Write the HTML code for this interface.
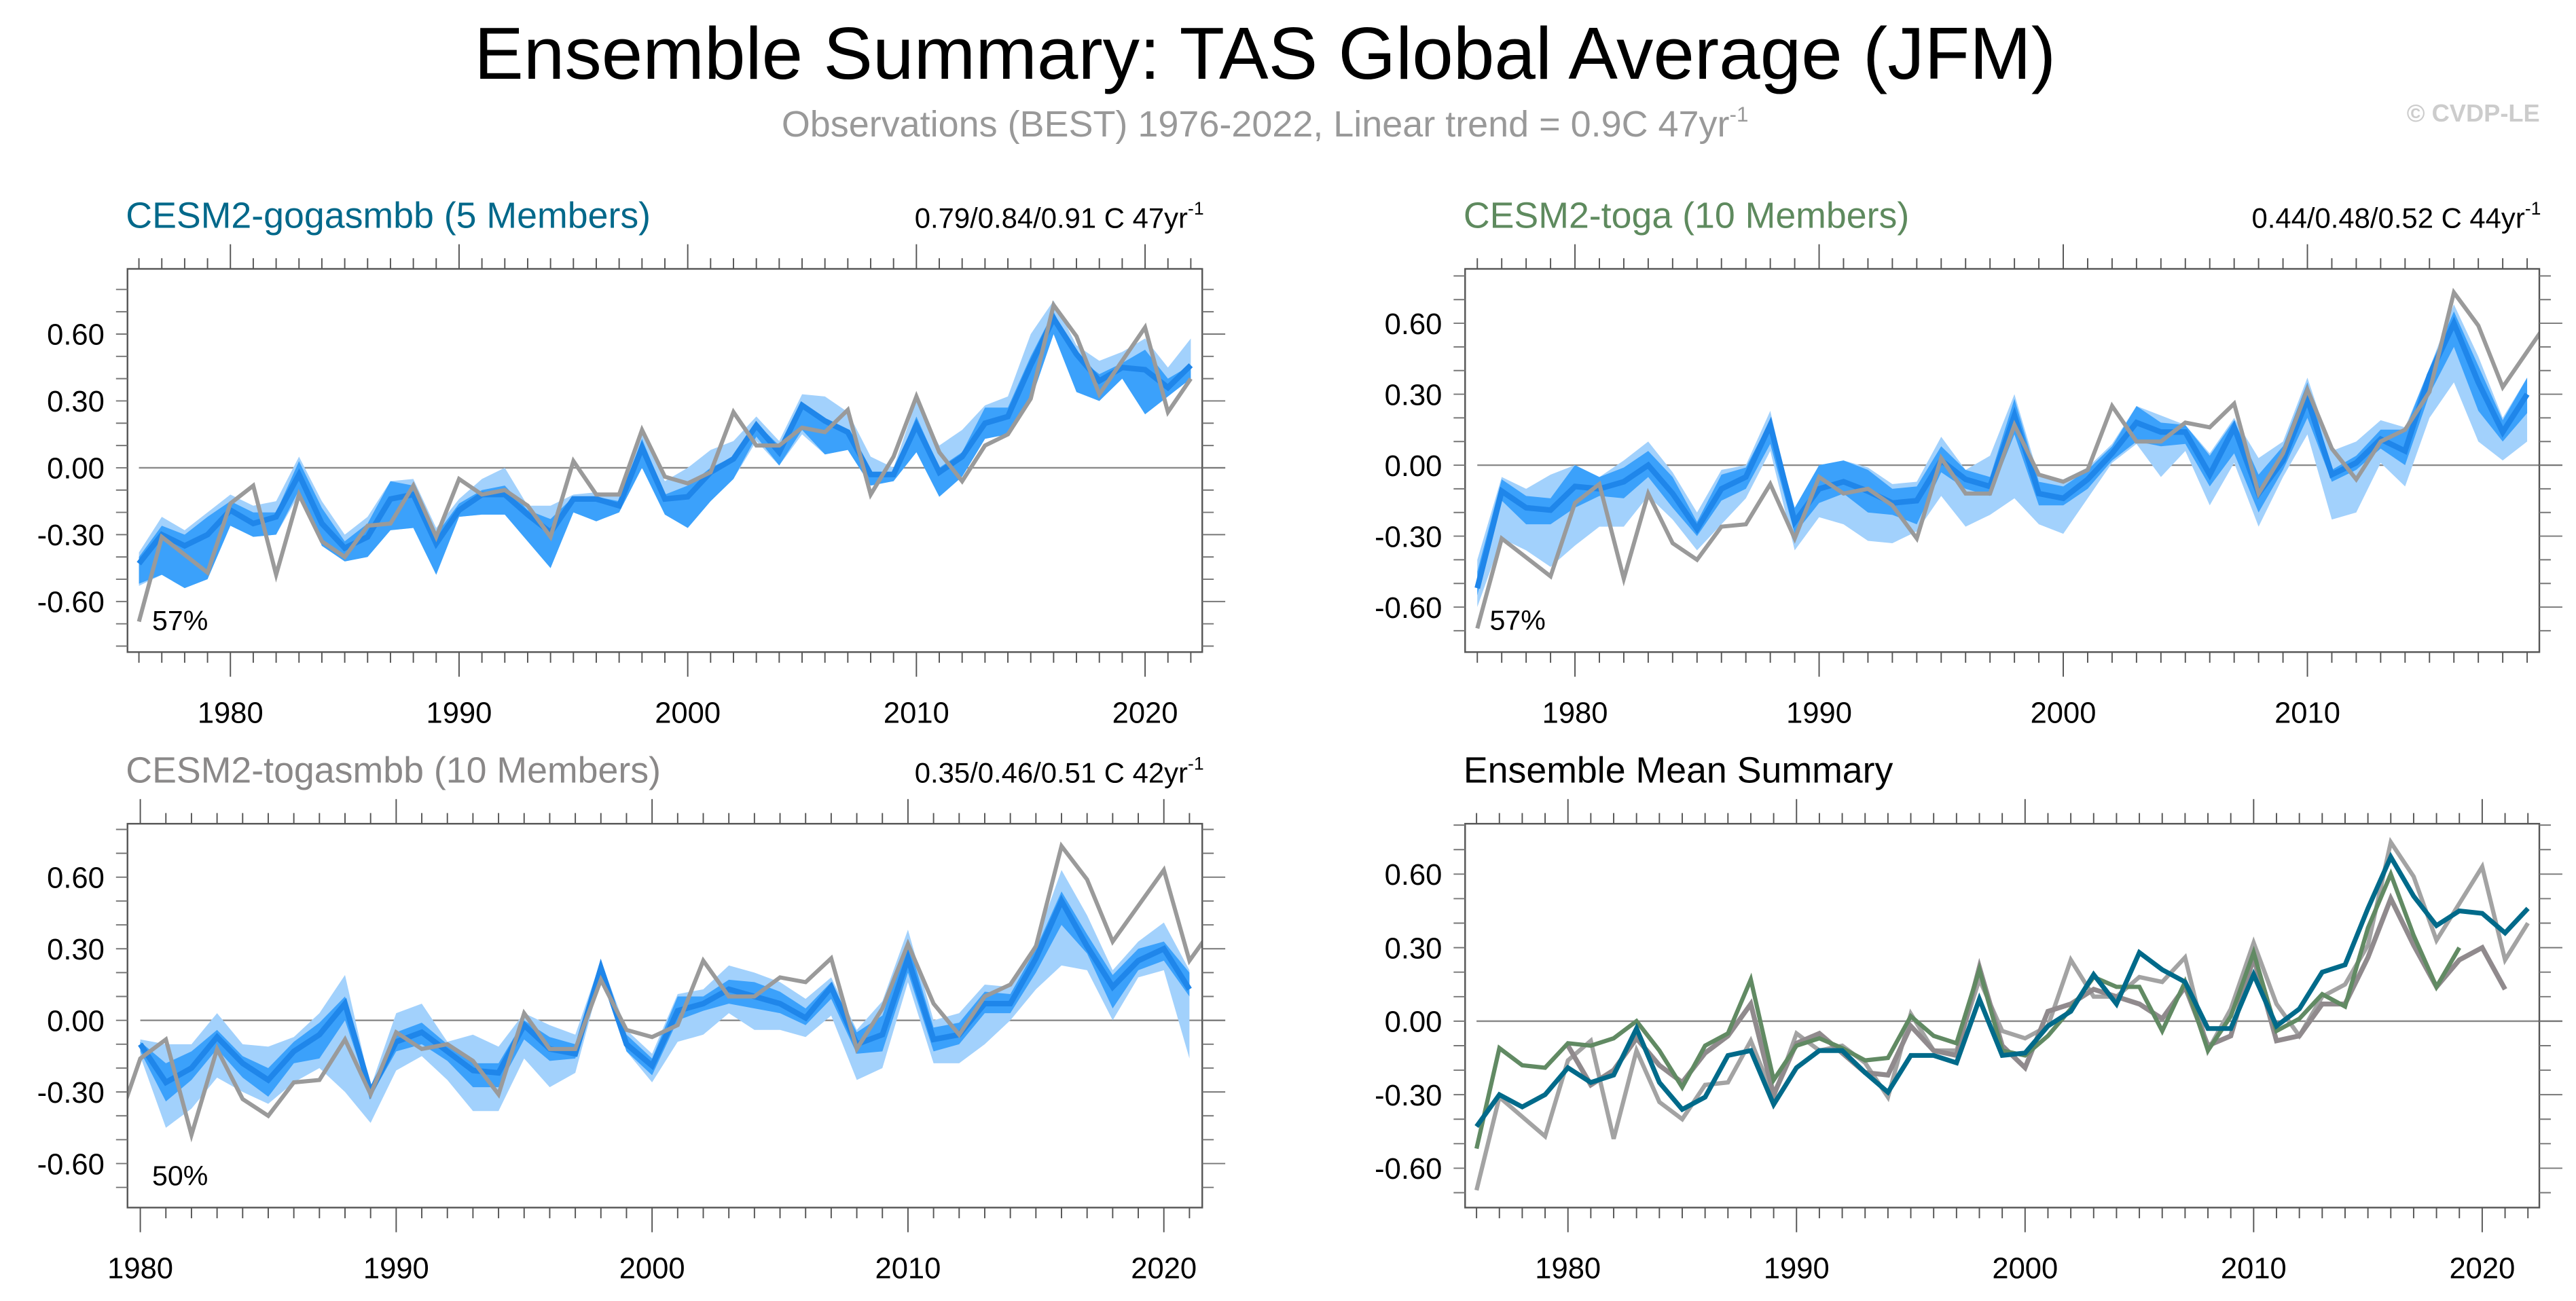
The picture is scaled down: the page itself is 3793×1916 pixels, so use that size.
<!DOCTYPE html>
<html><head><meta charset="utf-8"><style>
html,body{margin:0;padding:0;background:#fff;}
svg{display:block;font-family:"Liberation Sans",sans-serif;}
</style></head><body>
<svg id="chart" width="3793" height="1916" viewBox="0 0 1568 792.07" xmlns="http://www.w3.org/2000/svg">
<rect x="0" y="0" width="1568" height="793" fill="#fff"/>
<text x="770" y="48" font-size="45" text-anchor="middle" fill="#000">Ensemble Summary: TAS Global Average (JFM)</text>
<text x="770" y="83" font-size="22.3" text-anchor="middle" fill="#999">Observations (BEST) 1976-2022, Linear trend = 0.9C 47yr<tspan font-size="13" dy="-9">-1</tspan></text>
<text x="1546" y="74" font-size="15" font-weight="bold" text-anchor="end" fill="#ccc">© CVDP-LE</text>
<g id="plots"></g>
</svg>
<script>
// ---- data ----
const obsYears = [1976,2022];
const obsVals = [-0.69,-0.31,-0.39,-0.47,-0.16,-0.08,-0.48,-0.12,-0.33,-0.40,-0.26,-0.25,-0.08,-0.31,-0.05,-0.12,-0.10,-0.17,-0.31,0.03,-0.12,-0.12,0.17,-0.04,-0.07,-0.02,0.25,0.10,0.10,0.18,0.16,0.26,-0.12,0.05,0.32,0.07,-0.06,0.10,0.15,0.31,0.73,0.59,0.33,0.48,0.63,0.25,0.40];

const gogaYears = [1976,2022];
const gogaMean = [-0.43,-0.30,-0.35,-0.30,-0.19,-0.25,-0.22,-0.03,-0.25,-0.36,-0.31,-0.14,-0.12,-0.34,-0.19,-0.12,-0.12,-0.21,-0.29,-0.14,-0.14,-0.17,0.09,-0.14,-0.13,-0.02,0.04,0.19,0.07,0.28,0.21,0.16,-0.03,-0.03,0.19,-0.02,0.05,0.20,0.23,0.46,0.67,0.51,0.39,0.45,0.44,0.36,0.46];
const gogaLightLo = [-0.53,-0.48,-0.54,-0.50,-0.26,-0.31,-0.30,-0.12,-0.35,-0.42,-0.40,-0.28,-0.27,-0.48,-0.22,-0.21,-0.21,-0.33,-0.45,-0.20,-0.24,-0.20,0.00,-0.21,-0.27,-0.15,-0.05,0.12,0.01,0.15,0.06,0.08,-0.08,-0.06,0.07,-0.13,-0.04,0.13,0.15,0.30,0.60,0.34,0.30,0.40,0.24,0.32,0.40];
const gogaLightHi = [-0.38,-0.22,-0.28,-0.20,-0.12,-0.17,-0.15,0.05,-0.15,-0.30,-0.22,-0.06,-0.05,-0.27,-0.14,-0.05,0.00,-0.17,-0.17,-0.12,-0.11,-0.12,0.15,-0.06,0.00,0.08,0.12,0.23,0.12,0.33,0.32,0.25,0.05,0.00,0.30,0.10,0.17,0.28,0.32,0.60,0.75,0.55,0.48,0.52,0.58,0.45,0.58];
const gogaDarkLo = [-0.52,-0.48,-0.54,-0.50,-0.26,-0.31,-0.30,-0.10,-0.35,-0.42,-0.40,-0.28,-0.27,-0.48,-0.22,-0.21,-0.21,-0.33,-0.45,-0.20,-0.24,-0.20,0.00,-0.21,-0.27,-0.15,-0.05,0.14,0.01,0.17,0.06,0.08,-0.08,-0.06,0.07,-0.13,-0.04,0.13,0.15,0.30,0.60,0.34,0.30,0.40,0.24,0.32,0.40];
const gogaDarkHi = [-0.40,-0.26,-0.30,-0.22,-0.15,-0.20,-0.20,0.03,-0.18,-0.33,-0.25,-0.06,-0.08,-0.30,-0.16,-0.10,-0.08,-0.19,-0.23,-0.13,-0.13,-0.15,0.13,-0.12,-0.08,0.00,0.05,0.20,0.10,0.28,0.22,0.17,-0.02,-0.02,0.23,0.00,0.07,0.27,0.27,0.50,0.70,0.50,0.42,0.47,0.53,0.40,0.46];

const togaYears = [1976,2019];
const togaMean = [-0.52,-0.11,-0.18,-0.19,-0.09,-0.10,-0.07,0.00,-0.12,-0.27,-0.10,-0.05,0.17,-0.24,-0.10,-0.07,-0.11,-0.16,-0.15,0.02,-0.06,-0.09,0.21,-0.12,-0.14,-0.06,0.05,0.18,0.14,0.14,-0.04,0.16,-0.12,0.02,0.28,-0.04,0.01,0.11,0.06,0.38,0.60,0.35,0.14,0.30];
const togaLightLo = [-0.60,-0.31,-0.36,-0.43,-0.34,-0.26,-0.26,-0.13,-0.23,-0.36,-0.25,-0.14,0.06,-0.36,-0.22,-0.25,-0.32,-0.33,-0.28,-0.13,-0.26,-0.21,-0.14,-0.25,-0.29,-0.14,0.01,0.09,-0.05,0.06,-0.17,0.01,-0.26,-0.05,0.13,-0.23,-0.20,0.01,-0.09,0.20,0.35,0.10,0.02,0.10];
const togaLightHi = [-0.40,-0.05,-0.10,-0.04,0.00,-0.05,0.02,0.10,-0.03,-0.20,-0.02,0.00,0.23,-0.22,0.00,0.02,-0.01,-0.08,-0.07,0.12,-0.02,0.04,0.30,-0.05,-0.06,-0.01,0.09,0.25,0.21,0.17,0.05,0.20,0.03,0.10,0.37,0.06,0.10,0.19,0.16,0.41,0.68,0.46,0.20,0.37];
const togaDarkLo = [-0.55,-0.15,-0.25,-0.25,-0.18,-0.13,-0.14,-0.05,-0.18,-0.30,-0.15,-0.10,0.09,-0.29,-0.16,-0.12,-0.20,-0.21,-0.25,-0.03,-0.10,-0.13,0.13,-0.17,-0.17,-0.10,0.02,0.10,0.08,0.09,-0.09,0.05,-0.20,-0.02,0.20,-0.07,-0.02,0.07,0.00,0.30,0.50,0.23,0.10,0.22];
const togaDarkHi = [-0.45,-0.06,-0.13,-0.14,0.00,-0.05,-0.01,0.06,-0.05,-0.24,-0.04,-0.01,0.19,-0.18,0.00,0.02,-0.02,-0.10,-0.09,0.08,-0.02,-0.05,0.28,-0.07,-0.09,-0.02,0.08,0.25,0.18,0.17,0.04,0.19,-0.04,0.08,0.35,-0.02,0.04,0.15,0.15,0.41,0.65,0.42,0.19,0.37];

const togasYears = [1980,2021];
const togasMean = [-0.10,-0.26,-0.20,-0.07,-0.18,-0.25,-0.13,-0.06,0.07,-0.30,-0.09,-0.05,-0.13,-0.21,-0.22,-0.02,-0.12,-0.14,0.22,-0.10,-0.19,0.04,0.07,0.13,0.10,0.07,0.01,0.14,-0.10,-0.06,0.26,-0.08,-0.06,0.07,0.07,0.26,0.50,0.31,0.14,0.25,0.30,0.13];
const togasLightLo = [-0.15,-0.45,-0.37,-0.24,-0.30,-0.35,-0.26,-0.20,-0.30,-0.43,-0.21,-0.15,-0.25,-0.38,-0.38,-0.16,-0.28,-0.22,0.18,-0.13,-0.26,-0.09,-0.06,0.03,-0.04,-0.04,-0.07,0.02,-0.25,-0.20,0.16,-0.18,-0.18,-0.10,0.00,0.13,0.23,0.21,0.00,0.18,0.21,-0.16];
const togasLightHi = [-0.08,-0.10,-0.10,0.03,-0.10,-0.11,-0.07,0.03,0.19,-0.28,0.03,0.07,-0.09,-0.06,-0.11,0.03,-0.02,-0.06,0.25,-0.04,-0.14,0.11,0.13,0.23,0.20,0.16,0.09,0.18,-0.04,0.08,0.38,0.00,0.03,0.15,0.14,0.33,0.63,0.44,0.21,0.33,0.41,0.21];
const togasDarkLo = [-0.13,-0.34,-0.25,-0.12,-0.24,-0.32,-0.18,-0.16,0.00,-0.32,-0.13,-0.10,-0.17,-0.28,-0.28,-0.08,-0.17,-0.16,0.19,-0.13,-0.23,0.00,0.04,0.07,0.05,0.03,-0.02,0.09,-0.14,-0.13,0.20,-0.13,-0.10,0.03,0.03,0.20,0.40,0.28,0.05,0.21,0.25,0.10];
const togasDarkHi = [-0.09,-0.18,-0.13,-0.04,-0.15,-0.20,-0.09,-0.01,0.10,-0.28,-0.05,-0.01,-0.10,-0.18,-0.18,0.00,-0.07,-0.10,0.23,-0.06,-0.16,0.10,0.10,0.17,0.16,0.12,0.05,0.16,-0.05,0.02,0.33,-0.03,-0.01,0.12,0.11,0.30,0.54,0.36,0.19,0.30,0.33,0.20];

const yTickVals = [-0.6,-0.3,0,0.3,0.6];
const yTickLabels = ["-0.60","-0.30","0.00","0.30","0.60"];
const xTickVals = [1980,1990,2000,2010,2020];
const xTickLabels = ["1980","1990","2000","2010","2020"];

// ---- drawing ----
const NS = "http://www.w3.org/2000/svg";
const root = document.getElementById('plots');
function mk(tag, attrs, parent){
  const e = document.createElementNS(NS, tag);
  for (const k in attrs) e.setAttribute(k, attrs[k]);
  (parent||root).appendChild(e);
  return e;
}
function yearsOf(r){const a=[];for(let y=r[0];y<=r[1];y++)a.push(y);return a;}

const LIGHT="#a2d1fc", DARK="#3ba1fb", MEAN="#1f86ea", OBS="#9a9a9a";
let clipN=0;
function panel(cfg){
  const g = mk('g',{});
  
  
  const L=cfg.L,R=cfg.R,T=cfg.T,B=cfg.B;
  const x0=cfg.xr[0]-0.5, x1=cfg.xr[1]+0.5;
  const sx = v => L + (v - x0)/(x1-x0)*(R-L);
  const sy = v => cfg.y0 - v*cfg.ppu;
  const vmax=(cfg.y0-T)/cfg.ppu, vmin=(cfg.y0-B)/cfg.ppu;
  const t = mk('text',{x:L-1,y:T-25,'font-size':22.2,fill:cfg.color},g);
  t.textContent=cfg.title;
  
  
  if(cfg.trend){
    const tr = mk('text',{x:R+1,y:T-25,'font-size':17.3,'text-anchor':'end',fill:'#000'},g);
    
    
    tr.appendChild(document.createTextNode(cfg.trend));
    const sp=mk('tspan',{'font-size':11,dy:-8},tr); sp.textContent='-1';
  }
  const id='c'+(clipN++);
  const cp=mk('clipPath',{id:id},g); mk('rect',{x:L,y:T,width:R-L,height:B-T},cp);
  const zl = mk('line',{x1:sx(cfg.xr[0]),x2:R+14,y1:sy(0),y2:sy(0),stroke:'#8a8a8a','stroke-width':1},g);
  
  
  const plot = mk('g',{'clip-path':'url(#'+id+')'},g);
  function band(years,lo,hi,fill,nm){
    let pts=[];
    years.forEach((y,i)=>pts.push(sx(y)+','+sy(hi[i])));
    for(let i=years.length-1;i>=0;i--) pts.push(sx(years[i])+','+sy(lo[i]));
    const p=mk('polygon',{points:pts.join(' '),fill:fill},plot);
    
    
  }
  function line(years,vals,col,w,nm){
    const p=mk('polyline',{points:years.map((y,i)=>sx(y)+','+sy(vals[i])).join(' '),fill:'none',stroke:col,'stroke-width':w,'stroke-linejoin':'miter'},plot);
    
    
  }
  (cfg.bands||[]).forEach(b=>band(b.years,b.lo,b.hi,b.fill,b.name));
  (cfg.lines||[]).forEach(l=>line(l.years,l.vals,l.color,l.w,l.name));
  const fr=mk('rect',{x:L,y:T,width:R-L,height:B-T,fill:'none',stroke:'#555','stroke-width':1},g);
  
  
  for(let y=cfg.xr[0]; y<=cfg.xr[1]; y++){
    const major = y%10===0, len = major?15:6.5, x=sx(y);
    mk('line',{x1:x,x2:x,y1:T,y2:T-len,stroke:'#555','stroke-width':0.8},g);
    mk('line',{x1:x,x2:x,y1:B,y2:B+len,stroke:'#555','stroke-width':0.8},g);
  }
  xTickVals.forEach((v,i)=>{
    if(v<x0||v>x1) return;
    const tx=mk('text',{x:sx(v),y:B+43,'font-size':18,'text-anchor':'middle',fill:'#000'},g);
    tx.textContent=xTickLabels[i];
    
    
  });
  for(let k=Math.ceil(vmin*10);k<=Math.floor(vmax*10);k++){
    const v=k/10, yy=sy(v), major=(k%3===0);
    mk('line',{x1:L,x2:L-7,y1:yy,y2:yy,stroke:'#777','stroke-width':0.8},g);
    mk('line',{x1:R,x2:R+(major?14:7),y1:yy,y2:yy,stroke:'#777','stroke-width':0.8},g);
  }
  yTickVals.forEach((v,i)=>{
    const ty=mk('text',{x:L-14,y:sy(v)+6.5,'font-size':18,'text-anchor':'end',fill:'#000'},g);
    ty.textContent=yTickLabels[i];
    
    
  });
  if(cfg.pct){
    const pc=mk('text',{x:L+15,y:sy(0)+ (B-sy(0))*0.88,'font-size':17,fill:'#000'},g);
    pc.textContent=cfg.pct;
    
    
  }
}

const oY=yearsOf(obsYears), gY=yearsOf(gogaYears), tY=yearsOf(togaYears), sY=yearsOf(togasYears);

panel({name:'panel-cesm2-gogasmbb',title:'CESM2-gogasmbb (5 Members)',color:'#00688a',trend:'0.79/0.84/0.91 C 47yr',
  L:77.6,R:731.8,T:163.7,B:397,y0:284.8,ppu:135.7,xr:[1976,2022],pct:'57%',
  bands:[{years:gY,lo:gogaLightLo,hi:gogaLightHi,fill:LIGHT,name:'range-band'},{years:gY,lo:gogaDarkLo,hi:gogaDarkHi,fill:DARK,name:'iqr-band'}],
  lines:[{years:gY,vals:gogaMean,color:MEAN,w:3.4,name:'ensemble-mean-line'},{years:oY,vals:obsVals,color:OBS,w:2.5,name:'observations-line'}]});

panel({name:'panel-cesm2-toga',title:'CESM2-toga (10 Members)',color:'#5e8a5e',trend:'0.44/0.48/0.52 C 44yr',
  L:891.8,R:1545.7,T:163.7,B:397,y0:283.2,ppu:144,xr:[1976,2019],pct:'57%',
  bands:[{years:tY,lo:togaLightLo,hi:togaLightHi,fill:LIGHT,name:'range-band'},{years:tY,lo:togaDarkLo,hi:togaDarkHi,fill:DARK,name:'iqr-band'}],
  lines:[{years:tY,vals:togaMean,color:MEAN,w:3.4,name:'ensemble-mean-line'},{years:oY,vals:obsVals,color:OBS,w:2.5,name:'observations-line'}]});

panel({name:'panel-cesm2-togasmbb',title:'CESM2-togasmbb (10 Members)',color:'#8a8888',trend:'0.35/0.46/0.51 C 42yr',
  L:77.6,R:731.8,T:501.5,B:735.2,y0:621.2,ppu:145.3,xr:[1980,2021],pct:'50%',
  bands:[{years:sY,lo:togasLightLo,hi:togasLightHi,fill:LIGHT,name:'range-band'},{years:sY,lo:togasDarkLo,hi:togasDarkHi,fill:DARK,name:'iqr-band'}],
  lines:[{years:sY,vals:togasMean,color:MEAN,w:3.4,name:'ensemble-mean-line'},{years:oY,vals:obsVals,color:OBS,w:2.5,name:'observations-line'}]});

panel({name:'panel-ensemble-mean-summary',title:'Ensemble Mean Summary',color:'#000',
  L:891.8,R:1545.7,T:501.5,B:735.2,y0:621.7,ppu:149.2,xr:[1976,2022],
  lines:[{years:oY,vals:obsVals,color:'#a3a3a3',w:2.6,name:'observations-line'},
         {years:sY,vals:togasMean,color:'#908a8d',w:3,name:'togasmbb-mean-line'},
         {years:tY,vals:togaMean,color:'#618a63',w:2.6,name:'toga-mean-line'},
         {years:gY,vals:gogaMean,color:'#006a8a',w:2.9,name:'gogasmbb-mean-line'}]});
</script>
</body></html>
